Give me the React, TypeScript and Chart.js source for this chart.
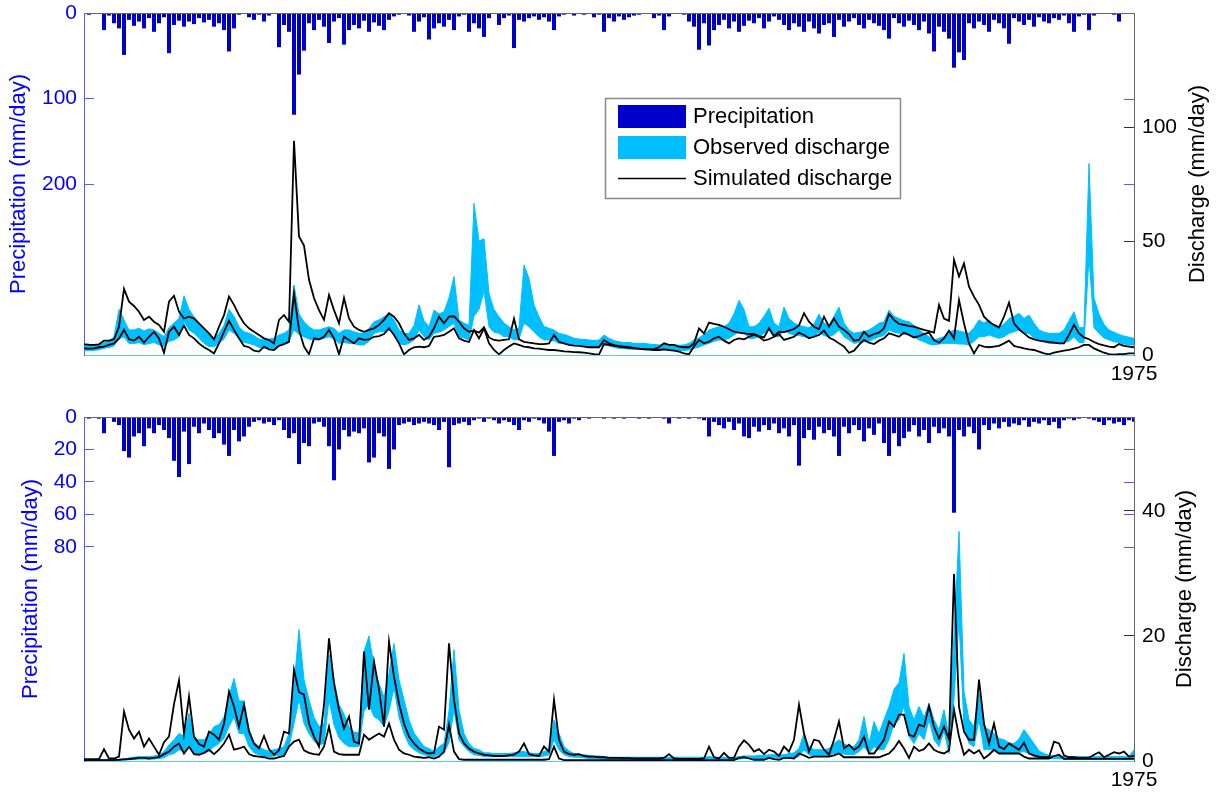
import React, { useEffect, useRef } from 'react';
import { Chart, registerables } from 'chart.js';

Chart.register(...registerables);

const FONT_FAMILY = "'Liberation Sans', Arial, Helvetica, sans-serif";
const BLUE_TEXT = '#0000FF';
const AXIS_BLUE = '#5a5aff';
const AXIS_CYAN = '#55ccff';
const SPINE_GRAY = '#666666';
const PRECIP_COLOR = '#0000CC';
const OBS_COLOR = '#00BFFF';
const SIM_COLOR = '#000000';

const X_TICK_LABELS = ['1975'];
const LEGEND_LABELS = ['Precipitation', 'Observed discharge', 'Simulated discharge'];
const PRECIP_TITLE = 'Precipitation (mm/day)';
const Q_TITLE = 'Discharge (mm/day)';

// ---------------- Upper panel ----------------
const P1_PRECIP_TICKS = [0, 100, 200];
const P1_Q_TICKS = [0, 50, 100];
const P1_PRECIP_MAX = 400;
const P1_Q_MAX = 150;

const P1_PRECIP = [
  1, 2, 1, 0, 20, 3, 12, 18, 49, 8,
  15, 10, 18, 6, 22, 12, 5, 47, 14, 9,
  16, 10, 13, 6, 11, 8, 16, 12, 20, 45,
  18, 2, 0, 5, 8, 2, 10, 3, 0, 40,
  14, 22, 119, 72, 44, 12, 20, 8, 16, 35,
  10, 6, 37, 20, 14, 18, 9, 22, 11, 15,
  20, 8, 4, 2, 0, 3, 22, 10, 5, 31,
  18, 12, 16, 8, 20, 4, 2, 22, 12, 18,
  28, 6, 0, 14, 6, 3, 41, 8, 10, 6,
  4, 8, 5, 10, 20, 4, 2, 0, 3, 1,
  2, 0, 5, 2, 22, 6, 10, 4, 8, 5,
  3, 2, 1, 0, 6, 3, 20, 4, 1, 0,
  2, 10, 16, 43, 12, 38, 20, 14, 8, 18,
  10, 22, 15, 9, 12, 6, 18, 10, 4, 8,
  14, 20, 12, 16, 22, 10, 18, 24, 14, 12,
  28, 8, 16, 10, 6, 14, 18, 8, 12, 15,
  20, 30, 6, 12, 16, 9, 14, 20, 10, 24,
  45, 16, 22, 30, 64, 46, 55, 12, 18, 10,
  14, 22, 8, 12, 18, 36, 6, 10, 14, 8,
  16, 5, 10, 12, 6, 8, 3, 12, 22, 4,
  2, 20, 3, 0, 1, 0, 2, 10, 1, 0, 0,
];

const P1_OBS_LO = [
  1.9, 1.9, 2, 2.3, 3, 3.3, 4, 7, 8, 5,
  5, 5.5, 4.5, 5, 5.5, 4.5, 3.7, 6, 6.6, 8,
  14.6, 11, 9.5, 7.3, 5.1, 3.7, 3.7, 5.1, 7, 11,
  9.5, 7.3, 5.5, 5.1, 4.4, 3.4, 2.9, 3, 3, 4.4,
  5.1, 6, 11, 9, 8, 7, 6.6, 6.6, 7.3, 8,
  7, 5.1, 5.5, 5.1, 5, 4.4, 4.4, 6, 9.5, 10.2,
  10.2, 11, 8.8, 5.1, 4.4, 5.1, 6.6, 11, 8, 6.6,
  9.5, 10, 11, 12.5, 13.9, 8, 7.5, 6.6, 17, 20,
  28, 12.4, 10, 9.5, 8, 8, 6.6, 7, 13.9, 12.4,
  10.2, 8, 6.6, 6.6, 6.3, 5.1, 5, 4.4, 4.4, 4,
  3.7, 3.7, 3.4, 3.7, 4.4, 4, 3.4, 2.9, 2.8, 2.6,
  2.5, 2.5, 2.4, 2.2, 2.2, 2.2, 2.3, 2.2, 2, 2,
  2, 2.2, 2.9, 3.5, 4.4, 5.1, 6, 6.6, 6.6, 7.3,
  8.8, 10.2, 10, 7.3, 7.3, 8, 9.5, 11, 8, 8,
  11, 9.5, 8.8, 8.5, 8, 7.7, 8, 10, 8.5, 8,
  9, 11, 8, 6.6, 5.1, 5.5, 5.8, 6, 7, 8,
  8.5, 11, 10, 9.5, 9, 9.5, 8, 6.6, 5.8, 4.8,
  4.4, 4.8, 5.1, 5.1, 5.1, 4.8, 4.8, 4.4, 6, 8,
  8, 8.8, 8, 7.3, 8, 9.5, 10.2, 11, 9.5, 9.5,
  7.3, 6.6, 5.8, 5.1, 5.1, 5.1, 5.5, 6, 8, 5.5,
  5.5, 43, 12, 9.5, 7.5, 6.6, 5.8, 5.5, 4.8, 4.4, 4.4,
];

const P1_OBS_HI = [
  3.9, 4, 4.2, 4.5, 5.5, 6, 8, 20, 15.4, 11,
  11, 11.7, 10.5, 11.5, 11, 9.5, 8, 12, 14, 16,
  26, 20, 16.8, 14, 11, 9, 7.3, 9.5, 13, 20,
  17, 12.4, 10.2, 9.5, 8.5, 7, 6.6, 7, 7.3, 8.8,
  9.5, 11, 30.7, 18, 14.6, 12.4, 11, 11, 11.7, 12.4,
  11.7, 9.5, 11, 11, 10.2, 9.5, 9.5, 11.7, 14.6, 15.4,
  16.8, 18.3, 15.4, 11, 9.5, 9.5, 13, 22, 15, 12.4,
  19.7, 18, 19, 25, 34.4, 15.4, 14, 13, 66.5, 50,
  51, 27, 20, 16.8, 14, 12.4, 11, 12, 39.5, 33.6,
  22, 16.8, 12.5, 11.7, 11, 9.5, 9, 8.3, 7.3, 7,
  6.8, 6.6, 6.3, 6.6, 8.8, 7.3, 6.3, 5.8, 5.5, 5.5,
  5.1, 5.1, 5.1, 4.8, 4.6, 4.4, 4.6, 4.4, 4.3, 4.3,
  4.4, 5.1, 6.6, 7.5, 9, 11, 11.7, 12.4, 12.4, 14,
  18, 24, 20, 12.4, 12.4, 14, 17, 20.5, 14, 12.4,
  21, 16, 14, 13, 12.4, 12, 13.5, 18, 14, 13,
  17, 21, 14, 11, 9.5, 10, 10.2, 11, 12.4, 13.9,
  14.6, 19.7, 17, 16, 15, 14.6, 13, 11, 9.5, 8,
  6.6, 7.3, 8, 9.5, 11, 10.5, 10, 9.5, 12, 15.4,
  14, 15.4, 13, 12.4, 13.5, 16, 17, 18.3, 16, 17.5,
  14, 11, 10, 9.5, 9.5, 9.5, 11, 15, 19, 12,
  12, 84, 25, 18, 13.5, 11, 10, 9, 8.3, 7.8, 7.3,
];

const P1_SIM_LO = [
  2.9, 2.8, 2.9, 3.4, 3.7, 4.4, 5.1, 7.3, 11, 6.9,
  6.3, 8, 5.4, 8, 10.2, 7.3, 1, 10.2, 12.4, 8.8,
  12.9, 8.8, 7.3, 5.1, 3.4, 2.2, 0.7, 5.1, 10.2, 15,
  11, 7.3, 4, 3.4, 1.9, 1.5, 3.7, 2.5, 2.2, 4,
  4.8, 5.8, 27, 11, 3.7, 0.3, 7.3, 6.9, 8, 11,
  7.3, 0.3, 8, 6.6, 5.1, 7.3, 6.6, 6.9, 8, 8.3,
  9.2, 11.7, 8.8, 5.1, 0.3, 2.2, 3.4, 3.7, 3.4, 4,
  8, 8.3, 8.8, 10.2, 11.7, 7.3, 6.3, 5.7, 11, 7.3,
  11.7, 5.1, 2.2, 0.3, 2.2, 3.7, 5.1, 4.4, 3.7, 3.4,
  2.9, 2.8, 2.5, 2.2, 2.2, 1.9, 1.6, 1.5, 1.3, 1.2,
  1, 0.7, 0.4, 0.2, 4.8, 4.4, 4, 3.7, 3.4, 3.1,
  2.9, 2.8, 2.5, 2.5, 2.2, 2.2, 2.5, 2.2, 1.9, 1.5,
  0.7, 0.3, 3.7, 6.6, 5.1, 5.8, 7.3, 8, 6.3, 5.1,
  6.6, 7.3, 6.9, 8, 8.8, 8, 6.3, 6.9, 8, 9.2,
  6.6, 7.3, 8, 9.8, 8.8, 7.3, 8, 8.8, 10.7, 7.7,
  6.6, 5.1, 3.7, 1, 1.9, 4.4, 6.6, 5.4, 4.8, 6.3,
  7.3, 9.5, 8.8, 8, 9.8, 8.8, 7.7, 8.3, 9.2, 9.8,
  6.6, 5.4, 7.3, 10.7, 7.3, 24.1, 13.9, 5.1, 0.7, 4.4,
  3.7, 3.4, 3.7, 4, 5.1, 6.3, 4, 3.4, 2.9, 2.5,
  2.2, 1.5, 0.7, 0.3, 1, 1.5, 1.9, 2.2, 2.8, 3.4,
  4.4, 4.4, 2.9, 1.9, 1, 0.4, 0.2, 0.4, 0.4, 0.7, 0.7,
];

const P1_SIM_HI = [
  4.7, 4.5, 4.4, 4.7, 6.3, 6.3, 6.9, 12.4, 29, 23.4,
  21.5, 19, 15.4, 16.8, 14.6, 13.2, 10.2, 23.4, 26, 19,
  16, 16.8, 16, 13.9, 11.7, 9.5, 6.9, 12.4, 17.5, 25.6,
  22, 17.5, 13.9, 11.7, 10.2, 8.8, 7.3, 6.6, 5.1, 15.4,
  17.5, 14.6, 94, 52, 48, 33, 25, 19.7, 15.4, 26.3,
  19.7, 13.9, 25, 16, 12.4, 11, 10.2, 11, 11.7, 13.2,
  15.4, 18.3, 16.8, 13.9, 9.5, 6.6, 7.3, 8.8, 6.6, 8,
  11.7, 16.8, 13.9, 16.8, 17, 14.6, 11.7, 10.2, 10.7, 9.8,
  12.1, 7.7, 6.6, 6.3, 6.6, 6.9, 16, 6.9, 5.8, 5.4,
  5.1, 4.8, 4.8, 5.1, 8.8, 5.8, 5.1, 4.4, 4.1, 4,
  3.7, 3.4, 3.4, 3.4, 6.6, 5.1, 4.3, 4, 3.7, 3.4,
  3.1, 2.8, 2.6, 2.5, 2.6, 3.4, 5.1, 4.4, 4.4, 3.7,
  3.4, 3.4, 5.1, 11.7, 9.5, 14.2, 13.6, 13.2, 12.4, 11.3,
  10.2, 9.8, 9.5, 9.2, 9.2, 8.3, 7.7, 11.7, 8.3, 10.2,
  10, 10.7, 11.4, 13, 18.3, 14.6, 12.4, 11.3, 16.8, 12.4,
  16, 12.4, 11, 9.2, 6.3, 6.6, 10.2, 8, 9.2, 9.8,
  11.7, 18, 15.4, 13.6, 13.2, 12.7, 12.4, 11.7, 11, 10.5,
  9.8, 22, 16, 15, 41.7, 34.4, 40.2, 30, 25.6, 22,
  16.8, 14.6, 13.2, 12.1, 16.8, 23, 13.9, 11.3, 9.5, 7.7,
  6.9, 6.3, 6, 5.7, 5.4, 5.1, 5.1, 8.8, 13.2, 9.5,
  7.7, 6.9, 5.7, 4.8, 4.2, 3.7, 3.4, 4.8, 4, 3.7, 3.4,
];

// ---------------- Lower panel ----------------
const P2_PRECIP_TICKS = [0, 20, 40, 60, 80];
const P2_Q_TICKS = [0, 20, 40];
const P2_PRECIP_MAX = 212;
const P2_Q_MAX = 55;

const P2_PRECIP = [
  0, 1, 0, 1, 10, 0, 3, 5, 21, 25,
  12, 10, 18, 7, 10, 5, 8, 13, 27, 37,
  9, 29, 6, 10, 4, 8, 13, 10, 17, 24,
  8, 15, 12, 6, 3, 2, 4, 3, 5, 2,
  8, 13, 10, 29, 16, 18, 4, 3, 6, 18,
  39, 20, 8, 12, 9, 10, 7, 28, 25, 10,
  12, 32, 20, 5, 4, 3, 5, 4, 3, 4,
  5, 8, 3, 31, 5, 4, 3, 5, 2, 1,
  3, 1, 2, 4, 2, 3, 5, 8, 2, 3,
  1, 2, 4, 9, 24, 3, 2, 4, 1, 2,
  0, 1, 0, 0, 1, 0, 1, 0, 1, 0,
  0, 1, 0, 1, 0, 0, 1, 4, 0, 1,
  0, 1, 0, 1, 2, 12, 3, 5, 7, 3,
  8, 4, 12, 13, 6, 9, 5, 8, 4, 10,
  7, 12, 5, 30, 13, 8, 14, 6, 10, 8,
  12, 24, 6, 10, 5, 8, 15, 7, 11, 4,
  16, 24, 10, 18, 13, 9, 5, 12, 8, 16,
  6, 10, 7, 12, 59, 8, 12, 6, 10, 20,
  5, 8, 4, 7, 3, 6, 4, 5, 2, 6,
  3, 4, 2, 5, 3, 7, 2, 1, 2, 1,
  0, 1, 2, 3, 5, 2, 4, 3, 5, 2, 3,
];

const P2_OBS_LO = [
  0.05, 0.05, 0.05, 0.05, 0.05, 0.05, 0.05, 0.05, 0.05, 0.2,
  0.25, 0.3, 0.3, 0.3, 0.3, 0.4, 0.5, 1, 1.2, 1.8,
  1.5, 2.8, 1.2, 1.2, 1.2, 1.6, 2.3, 2.8, 3.6, 5.5,
  7, 4.4, 4.4, 2.3, 1.3, 1, 0.7, 0.7, 0.8, 0.9,
  1, 2.3, 6, 9.8, 6, 4.4, 3.2, 2.6, 2.8, 9.8,
  5.8, 3.7, 2.8, 2.3, 2.3, 2.3, 8, 9, 7.1, 6.6,
  5.5, 8, 11.7, 7, 4.4, 2.6, 1.8, 1.3, 1, 0.8,
  0.7, 1, 1.2, 3, 8.2, 3.4, 2.3, 1.5, 1, 0.9,
  0.7, 0.7, 0.7, 0.7, 0.7, 0.7, 0.7, 0.7, 0.7, 0.7,
  0.7, 0.7, 0.8, 1, 3.4, 1.8, 1, 0.7, 0.6, 0.6,
  0.5, 0.4, 0.4, 0.4, 0.3, 0.3, 0.3, 0.3, 0.3, 0.3,
  0.3, 0.3, 0.3, 0.3, 0.3, 0.3, 0.3, 0.3, 0.3, 0.3,
  0.3, 0.3, 0.3, 0.3, 0.3, 0.3, 0.3, 0.3, 0.3, 0.3,
  0.3, 0.3, 0.4, 0.4, 0.4, 0.4, 0.4, 0.5, 0.5, 0.5,
  0.4, 0.5, 0.5, 0.7, 1.8, 1, 0.8, 0.8, 0.8, 0.9,
  1.2, 1.2, 1.1, 1, 1, 1.5, 2.3, 1.2, 2.3, 1.8,
  1.8, 3.4, 6, 6.6, 8.7, 3.9, 2.8, 4.4, 3.4, 6.6,
  3.4, 2.3, 4.8, 1.2, 10, 22.6, 5.5, 2.8, 2.3, 6.6,
  1.8, 1.8, 1.8, 1.2, 1.2, 1.2, 1.2, 1.4, 1.5, 1.2,
  0.7, 0.5, 0.5, 0.4, 0.4, 0.35, 0.3, 0.3, 0.3, 0.3,
  0.3, 0.3, 0.3, 0.3, 0.3, 0.3, 0.3, 0.3, 0.3, 0.3, 0.5,
];

const P2_OBS_HI = [
  0.2, 0.2, 0.2, 0.2, 0.2, 0.2, 0.2, 0.2, 0.2, 0.5,
  0.6, 0.7, 0.7, 0.7, 0.8, 0.9, 1.5, 2.6, 3.4, 4.4,
  4, 7.6, 3.6, 3.4, 3.4, 4.2, 5.5, 5.8, 7, 10.4,
  13.2, 9.6, 9.6, 5.2, 3, 2.3, 1.8, 1.6, 1.8, 2,
  2.3, 4.4, 12, 21, 13, 9.8, 7, 5.5, 6, 17,
  13, 9, 7.5, 5.5, 4.6, 4.5, 17.5, 20, 15.1, 12.4,
  10.2, 14, 18.8, 13, 9.8, 6.6, 4.5, 3.4, 2.3, 2,
  1.5, 2.3, 2.8, 8, 17.8, 8.2, 4.4, 2.8, 2, 1.8,
  1.3, 1.3, 1.2, 1.2, 1.2, 1.2, 1.3, 1.5, 1.5, 1.3,
  1.2, 1.2, 1.5, 1.8, 6.6, 4.4, 2.3, 1.6, 1.2, 1.1,
  1, 0.9, 0.8, 0.8, 0.7, 0.6, 0.6, 0.6, 0.6, 0.6,
  0.6, 0.6, 0.6, 0.6, 0.6, 0.6, 0.6, 0.6, 0.6, 0.6,
  0.6, 0.6, 0.6, 0.6, 0.6, 0.7, 0.6, 0.6, 0.6, 0.6,
  0.6, 0.7, 0.8, 0.8, 0.8, 0.9, 0.9, 1, 1, 1,
  1, 1.2, 1.3, 2, 4.4, 2.3, 1.8, 1.8, 1.8, 2,
  2.8, 3.4, 2.8, 2.3, 2.3, 3.4, 7.1, 2.8, 6.3, 4.4,
  6.6, 8.7, 11.5, 12.5, 17.2, 8.7, 6.6, 8.7, 7, 9.2,
  6.6, 5, 8.2, 4, 20, 36.7, 11.1, 6.6, 5.5, 10.8,
  5.5, 5, 4.4, 3.6, 3.4, 2.9, 2.8, 3.5, 5, 3.9,
  2.8, 1.6, 1.2, 0.9, 0.8, 0.8, 0.7, 0.7, 0.7, 0.7,
  0.7, 0.7, 0.7, 0.7, 0.7, 0.7, 0.7, 0.7, 0.7, 0.7, 1.8,
];

const P2_SIM_LO = [
  0.15, 0.15, 0.15, 0.15, 0.15, 0.15, 0.15, 0.2, 0.3, 0.3,
  0.4, 0.5, 0.5, 0.4, 0.5, 0.6, 1.1, 1.5, 2.3, 2.8,
  1.2, 2.3, 1.1, 1, 1.3, 1.8, 1.1, 1.8, 2.8, 4.2,
  1.8, 2, 2.3, 1.1, 0.8, 0.7, 0.6, 0.4, 0.4, 0.6,
  0.8, 2.3, 3.1, 3.4, 1.7, 1.3, 1.1, 1, 2.3, 5.5,
  1.5, 1.1, 1, 1, 1, 1, 4.2, 3.4, 3.9, 4.4,
  3.9, 6, 3.4, 1.8, 1.2, 1, 0.7, 0.6, 0.5, 0.6,
  0.4, 0.7, 1.5, 5.8, 1.5, 0.3, 0.2, 0.2, 0.2, 0.2,
  0.2, 0.2, 0.2, 0.2, 0.2, 0.2, 0.2, 0.2, 0.2, 0.2,
  0.2, 0.2, 0.2, 0.3, 2.3, 0.4, 0.15, 0.15, 0.15, 0.15,
  0.15, 0.15, 0.15, 0.15, 0.15, 0.15, 0.15, 0.15, 0.15, 0.15,
  0.15, 0.15, 0.15, 0.15, 0.15, 0.15, 0.15, 0.15, 0.15, 0.15,
  0.15, 0.15, 0.15, 0.15, 0.15, 0.15, 0.15, 0.15, 0.15, 0.15,
  0.15, 0.5, 0.6, 0.4, 0.2, 0.2, 0.2, 0.5, 0.3, 0.2,
  0.5, 0.5, 0.4, 1.2, 0.9, 0.5, 0.7, 0.7, 0.7, 0.7,
  0.9, 1.2, 0.6, 0.6, 0.6, 0.6, 0.6, 0.6, 0.6, 0.6,
  0.9, 1.2, 2, 3.2, 2, 0.5, 2.3, 1.6, 1.9, 2.8,
  1.8, 1.4, 1.2, 1.7, 8.2, 3.9, 1, 1.8, 1.2, 1.7,
  0.4, 1, 1.8, 1.2, 1.2, 1.2, 1.2, 1.2, 0.7, 0.4,
  0.4, 0.4, 0.4, 0.4, 0.8, 1, 0.35, 0.35, 0.35, 0.35,
  0.35, 0.35, 0.35, 0.35, 0.35, 0.35, 0.35, 0.35, 0.35, 0.35, 0.35,
];

const P2_SIM_HI = [
  0.3, 0.3, 0.3, 0.3, 1.9, 0.4, 0.4, 0.7, 7.9, 5,
  3.6, 4.7, 2.3, 3.6, 2.3, 1, 3, 3.9, 9.1, 12.9,
  4.4, 10.3, 3.9, 2.7, 2.3, 4.7, 4.2, 3.4, 6, 11.1,
  8.7, 5.5, 9, 4.7, 2.8, 2, 4, 1.9, 1, 1.7,
  4.7, 4.4, 14.6, 11, 10.6, 6, 3.9, 2.3, 9, 19.6,
  12.4, 8.2, 5.2, 7.1, 3.1, 2.8, 17.5, 8.2, 15.9, 11.4,
  5.5, 19.1, 13.5, 9.2, 6, 3.9, 2.8, 2, 1.5, 1.2,
  1.3, 5.5, 5, 18.8, 9.8, 4.4, 2.8, 2, 1.5, 1.2,
  1, 0.9, 0.8, 0.8, 0.8, 0.9, 1, 1.5, 2.8, 1.1,
  0.9, 0.8, 2.3, 1.5, 9.8, 3.4, 1.5, 1.1, 1, 1.1,
  0.8, 0.7, 0.7, 0.6, 0.6, 0.5, 0.5, 0.5, 0.45, 0.45,
  0.4, 0.4, 0.4, 0.4, 0.4, 0.4, 0.5, 1.1, 0.4, 0.35,
  0.35, 0.35, 0.35, 0.35, 0.4, 2.3, 0.6, 0.4, 1.3, 0.5,
  0.5, 2.3, 3.3, 2.6, 1.5, 1.9, 1.1, 1.8, 1.5, 0.8,
  2.3, 1.5, 3.4, 9, 4.4, 1.5, 3.4, 3.2, 1.8, 1,
  3.4, 6.3, 2, 2.6, 1.8, 2.3, 3.9, 1.2, 1.2, 2.3,
  3.4, 6.3, 5.5, 7.4, 7.4, 4.2, 3.9, 5.8, 5.5, 8.8,
  5.5, 3.6, 5.5, 3.5, 29.9, 8.7, 4.7, 3.4, 3.4, 13,
  6, 2.8, 6, 2.3, 1.9, 2.8, 2.3, 1.8, 2.9, 1.2,
  0.9, 0.7, 0.6, 0.6, 3.1, 2.8, 0.9, 0.6, 0.6, 0.5,
  0.5, 0.5, 1, 1.4, 0.6, 1, 1.4, 1.2, 1.5, 0.7, 0.8,
];

type PanelSpec = {
  key: string;
  precip: number[];
  obsLo: number[];
  obsHi: number[];
  simLo: number[];
  simHi: number[];
  precipTicks: number[];
  qTicks: number[];
  precipMax: number;
  qMax: number;
  padTop: number;
  leftTitleX: number;
  rightTitleX: number;
  legend: boolean;
};

const PANEL_TOP: PanelSpec = {
  key: 'top',
  precip: P1_PRECIP,
  obsLo: P1_OBS_LO,
  obsHi: P1_OBS_HI,
  simLo: P1_SIM_LO,
  simHi: P1_SIM_HI,
  precipTicks: P1_PRECIP_TICKS,
  qTicks: P1_Q_TICKS,
  precipMax: P1_PRECIP_MAX,
  qMax: P1_Q_MAX,
  padTop: 13,
  leftTitleX: 18.5,
  rightTitleX: 1198,
  legend: true,
};

const PANEL_BOTTOM: PanelSpec = {
  key: 'bottom',
  precip: P2_PRECIP,
  obsLo: P2_OBS_LO,
  obsHi: P2_OBS_HI,
  simLo: P2_SIM_LO,
  simHi: P2_SIM_HI,
  precipTicks: P2_PRECIP_TICKS,
  qTicks: P2_Q_TICKS,
  precipMax: P2_PRECIP_MAX,
  qMax: P2_Q_MAX,
  padTop: 27,
  leftTitleX: 31,
  rightTitleX: 1185,
  legend: false,
};

function drawRotated(ctx: CanvasRenderingContext2D, text: string, x: number, y: number, color: string) {
  ctx.save();
  ctx.translate(x, y);
  ctx.rotate(-Math.PI / 2);
  ctx.fillStyle = color;
  ctx.textAlign = 'center';
  ctx.textBaseline = 'middle';
  ctx.fillText(text, 0, 0);
  ctx.restore();
}

function drawLegend(ctx: CanvasRenderingContext2D) {
  const bx = 605, by = 98, bw = 295, bh = 100;
  ctx.save();
  ctx.fillStyle = '#ffffff';
  ctx.fillRect(bx, by, bw, bh);
  ctx.strokeStyle = '#8a8a8a';
  ctx.lineWidth = 1.5;
  ctx.strokeRect(bx + 0.5, by + 0.5, bw, bh);
  const sx = 618, sw = 68;
  ctx.fillStyle = PRECIP_COLOR;
  ctx.fillRect(sx, 105, sw, 23);
  ctx.fillStyle = OBS_COLOR;
  ctx.fillRect(sx, 136, sw, 23);
  ctx.strokeStyle = SIM_COLOR;
  ctx.lineWidth = 1.5;
  ctx.beginPath();
  ctx.moveTo(sx, 178.5);
  ctx.lineTo(sx + sw, 178.5);
  ctx.stroke();
  ctx.fillStyle = '#000000';
  ctx.font = `22px ${FONT_FAMILY}`;
  ctx.textAlign = 'left';
  ctx.textBaseline = 'middle';
  ctx.fillText(LEGEND_LABELS[0], 693, 117);
  ctx.fillText(LEGEND_LABELS[1], 693, 148);
  ctx.fillText(LEGEND_LABELS[2], 693, 179);
  ctx.restore();
}

function decorPlugin(spec: PanelSpec) {
  return {
    id: 'decor-' + spec.key,
    afterDraw(chart: any) {
      const { ctx, chartArea: a } = chart;
      const yP = chart.scales.yP;
      ctx.save();
      ctx.lineWidth = 1;
      ctx.strokeStyle = SPINE_GRAY;
      ctx.beginPath();
      ctx.moveTo(a.left, Math.round(a.top) + 0.5);
      ctx.lineTo(a.right + 0.5, Math.round(a.top) + 0.5);
      ctx.stroke();
      ctx.strokeStyle = AXIS_BLUE;
      spec.precipTicks.forEach((v) => {
        if (v === 0) return;
        const y = Math.round(yP.getPixelForValue(v)) + 0.5;
        ctx.beginPath();
        ctx.moveTo(a.right - 10, y);
        ctx.lineTo(a.right, y);
        ctx.stroke();
      });
      const cy = (a.top + a.bottom) / 2;
      ctx.font = `22px ${FONT_FAMILY}`;
      drawRotated(ctx, PRECIP_TITLE, spec.leftTitleX, cy, BLUE_TEXT);
      drawRotated(ctx, Q_TITLE, spec.rightTitleX, cy, '#000000');
      if (spec.legend) drawLegend(ctx);
      ctx.restore();
    },
  };
}

function makeConfig(spec: PanelSpec): any {
  const n = spec.precip.length;
  const labels = spec.precip.map((_, i) => (i === n - 1 ? X_TICK_LABELS[0] : String(i)));
  const tickFont = { family: FONT_FAMILY, size: 21 };
  const lineBase = { type: 'line', pointRadius: 0, tension: 0, yAxisID: 'yQ', xAxisID: 'x' };
  return {
    type: 'line',
    data: {
      labels,
      datasets: [
        {
          type: 'bar',
          label: LEGEND_LABELS[0],
          data: spec.precip,
          yAxisID: 'yP',
          xAxisID: 'x',
          backgroundColor: PRECIP_COLOR,
          borderWidth: 0,
          barPercentage: 1,
          categoryPercentage: 0.8,
          order: 4,
        },
        { ...lineBase, label: 'obs-low', data: spec.obsLo, borderColor: OBS_COLOR, borderWidth: 1, fill: false, order: 3 },
        {
          ...lineBase,
          label: LEGEND_LABELS[1],
          data: spec.obsHi,
          borderColor: OBS_COLOR,
          backgroundColor: OBS_COLOR,
          borderWidth: 1,
          fill: '-1',
          order: 2,
        },
        { ...lineBase, label: 'sim-low', data: spec.simLo, borderColor: SIM_COLOR, borderWidth: 1.8, fill: false, order: 1 },
        { ...lineBase, label: LEGEND_LABELS[2], data: spec.simHi, borderColor: SIM_COLOR, borderWidth: 1.8, fill: false, order: 0 },
      ],
    },
    options: {
      responsive: false,
      animation: false,
      events: [],
      layout: { padding: { top: spec.padTop, left: 0, right: 0, bottom: 0 } },
      plugins: { legend: { display: false }, tooltip: { enabled: false } },
      scales: {
        x: {
          type: 'category',
          offset: false,
          grid: { display: false, drawTicks: false, offset: false },
          border: { display: true, color: AXIS_CYAN, width: 1 },
          ticks: { font: tickFont, color: '#000000', padding: 7, maxRotation: 0, minRotation: 0, autoSkip: false },
          afterBuildTicks: (s: any) => {
            s.ticks = [{ value: n - 1 }];
          },
          afterFit: (s: any) => {
            s.height = 35;
            s.paddingLeft = 0;
            s.paddingRight = 0;
          },
        },
        yP: {
          type: 'linear',
          position: 'left',
          reverse: true,
          min: 0,
          max: spec.precipMax,
          bounds: 'data',
          grid: {
            display: true,
            drawOnChartArea: false,
            drawTicks: true,
            tickLength: -10,
            color: AXIS_BLUE,
            tickColor: AXIS_BLUE,
            tickWidth: 1,
          },
          border: { display: true, color: AXIS_BLUE, width: 1 },
          ticks: { font: tickFont, color: BLUE_TEXT, padding: 17 },
          afterBuildTicks: (s: any) => {
            s.ticks = spec.precipTicks.map((v) => ({ value: v }));
          },
          afterFit: (s: any) => {
            s.width = 84;
            s.paddingTop = 0;
            s.paddingBottom = 0;
          },
        },
        yQ: {
          type: 'linear',
          position: 'right',
          min: 0,
          max: spec.qMax,
          bounds: 'data',
          grid: {
            display: true,
            drawOnChartArea: false,
            drawTicks: true,
            tickLength: -10,
            color: '#333333',
            tickColor: '#333333',
            tickWidth: 1,
          },
          border: { display: true, color: SPINE_GRAY, width: 1 },
          ticks: { font: tickFont, color: '#000000', padding: 18 },
          afterBuildTicks: (s: any) => {
            s.ticks = spec.qTicks.map((v) => ({ value: v }));
          },
          afterFit: (s: any) => {
            s.width = 87;
            s.paddingTop = 0;
            s.paddingBottom = 0;
          },
        },
      },
    },
    plugins: [decorPlugin(spec)],
  };
}

export default function App() {
  const ref1 = useRef<HTMLCanvasElement>(null);
  const ref2 = useRef<HTMLCanvasElement>(null);

  useEffect(() => {
    const c1 = new Chart(ref1.current as HTMLCanvasElement, makeConfig(PANEL_TOP));
    const c2 = new Chart(ref2.current as HTMLCanvasElement, makeConfig(PANEL_BOTTOM));
    return () => {
      c1.destroy();
      c2.destroy();
    };
  }, []);

  return (
    <div
      style={{
        position: 'absolute',
        left: 0,
        top: 0,
        width: 1221,
        height: 796,
        background: '#ffffff',
        overflow: 'hidden',
      }}
    >
      <canvas
        ref={ref1}
        width={1221}
        height={390}
        style={{ position: 'absolute', left: 0, top: 0, width: 1221, height: 390 }}
      />
      <canvas
        ref={ref2}
        width={1221}
        height={406}
        style={{ position: 'absolute', left: 0, top: 390, width: 1221, height: 406 }}
      />
    </div>
  );
}
